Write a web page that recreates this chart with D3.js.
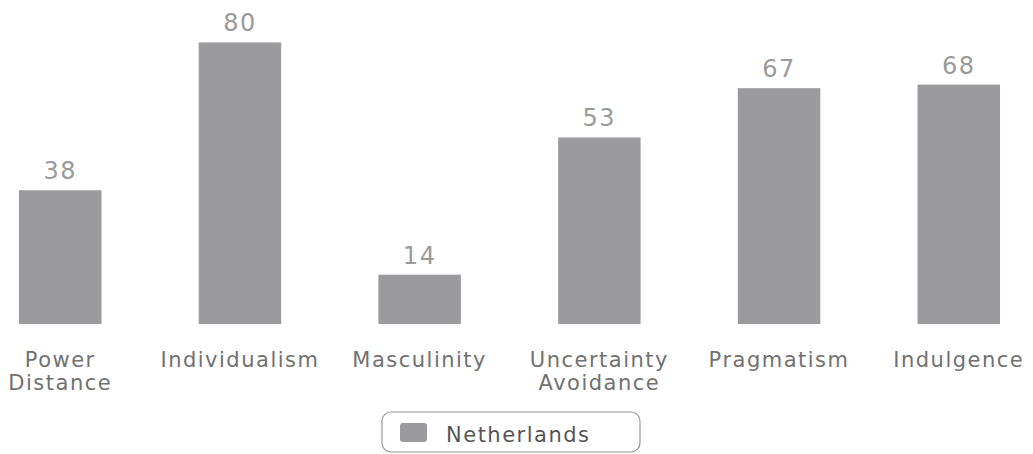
<!DOCTYPE html>
<html>

<head>
  <title>Hofstede Netherlands</title>
  <script src="https://cdn.jsdelivr.net/npm/d3@7/dist/d3.min.js"></script>
  <style>
    body { margin: 0; background: #fff; }
    .value { font: 24px "DejaVu Sans", sans-serif; fill: #9a9a9a; text-anchor: middle; letter-spacing: 1.5px; }
    .cat { font: 21px "DejaVu Sans", sans-serif; fill: #717171; text-anchor: middle; letter-spacing: 1.5px; }
    .legend text { font: 21px "DejaVu Sans", sans-serif; fill: #555; letter-spacing: 1.5px; }
  </style>
</head>

<body>
  <svg id="chart" width="1033" height="454"></svg>

  <script>
    var categories = [['Power', 'Distance'], ['Individualism'], ['Masculinity'],
      ['Uncertainty', 'Avoidance'], ['Pragmatism'], ['Indulgence']];
    var values = [38, 80, 14, 53, 67, 68];
    var seriesName = 'Netherlands';
    var barColor = '#9b9a9c';

    var svg = d3.select('#chart'),
      width = +svg.attr('width'),
      height = +svg.attr('height');

    var keys = categories.map(c => c.join(' '));

    var x = d3.scaleBand()
      .domain(keys)
      .range([19, 1000])
      .paddingInner(0.541)
      .paddingOuter(0);

    var y = d3.scaleLinear()
      .domain([0, 100])
      .range([324, -28]);

    var g = svg.append('g');

    g.selectAll('.bar')
      .data(values)
      .enter()
      .append('rect')
      .attr('class', 'bar')
      .attr('x', (d, i) => x(keys[i]))
      .attr('width', x.bandwidth())
      .attr('y', d => y(d))
      .attr('height', d => y(0) - y(d))
      .attr('fill', barColor);

    g.selectAll('.value')
      .data(values)
      .enter()
      .append('text')
      .attr('class', 'value')
      .attr('x', (d, i) => x(keys[i]) + x.bandwidth() / 2)
      .attr('y', d => y(d) - 11)
      .text(d => d);

    var cat = g.selectAll('.cat')
      .data(categories)
      .enter()
      .append('text')
      .attr('class', 'cat')
      .attr('transform', (d, i) => 'translate(' + (x(keys[i]) + x.bandwidth() / 2) + ',367)');

    cat.selectAll('tspan')
      .data(d => d)
      .enter()
      .append('tspan')
      .attr('x', 0)
      .attr('y', (d, i) => i * 23)
      .text(d => d);

    // legend box
    var legend = svg.append('g')
      .attr('class', 'legend')
      .attr('transform', 'translate(382,412)');

    legend.append('rect')
      .attr('width', 258)
      .attr('height', 40)
      .attr('rx', 9)
      .attr('fill', '#fff')
      .attr('stroke', '#999')
      .attr('stroke-width', 1.2);

    legend.append('rect')
      .attr('x', 18)
      .attr('y', 11)
      .attr('width', 27)
      .attr('height', 19)
      .attr('rx', 3)
      .attr('fill', barColor);

    legend.append('text')
      .attr('x', 64)
      .attr('y', 30)
      .text(seriesName);
  </script>
</body>

</html>
